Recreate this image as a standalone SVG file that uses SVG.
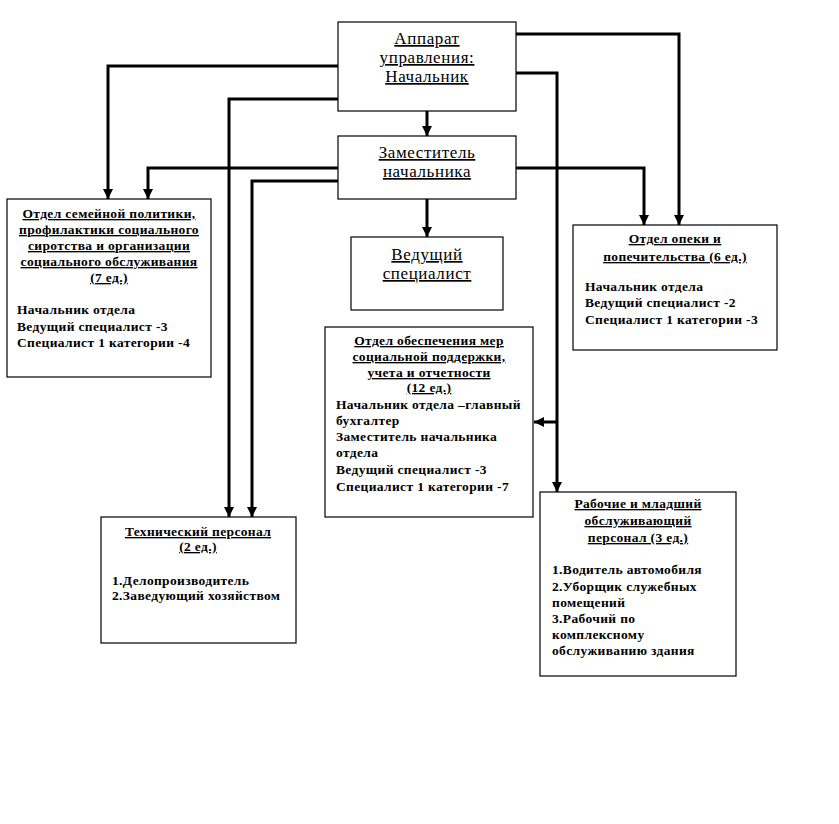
<svg xmlns="http://www.w3.org/2000/svg" width="839" height="824" viewBox="0 0 839 824">
<defs>
<marker id="arr" markerUnits="userSpaceOnUse" markerWidth="10" markerHeight="10" viewBox="0 0 10 10" refX="10" refY="5" orient="auto">
<path d="M0,0 L10,5 L0,10 Z" fill="#000"/>
</marker>
</defs>
<style>
.box{fill:#fff;stroke:#000;stroke-width:1.2}
.big{font-family:"Liberation Serif","Times New Roman",serif;font-size:17px;letter-spacing:0.6px;text-anchor:middle;text-decoration:underline;fill:#000}
.ttl{font-family:"Liberation Serif","Times New Roman",serif;font-size:13.5px;letter-spacing:0.35px;font-weight:bold;text-anchor:middle;text-decoration:underline;fill:#000}
.txt{font-family:"Liberation Serif","Times New Roman",serif;font-size:13.5px;letter-spacing:0.35px;font-weight:bold;fill:#000}
.c{fill:none;stroke:#000;stroke-width:3;marker-end:url(#arr)}
</style>
<rect width="839" height="824" fill="#fff"/>
<g id="connectors">
<path class="c" d="M427,111 V136"/>
<path class="c" d="M427,199 V237"/>
<path class="c" d="M338,66 H108 V199"/>
<path class="c" d="M338,168 H148 V199"/>
<path class="c" d="M338,99 H229 V517"/>
<path class="c" d="M338,181 H252 V517"/>
<path class="c" d="M516,34 H679 V225"/>
<path class="c" d="M516,168 H644 V225"/>
<path class="c" d="M516,73 H557 V492"/>
<path class="c" d="M557,422 H534"/>
</g>
<g id="n1">
<rect class="box" x="338" y="22" width="178" height="89"/>
<text class="big" x="427" y="44">Аппарат</text>
<text class="big" x="427" y="63">управления:</text>
<text class="big" x="427" y="82">Начальник</text>
</g>
<g id="n2">
<rect class="box" x="338" y="136" width="178" height="63"/>
<text class="big" x="427" y="158">Заместитель</text>
<text class="big" x="427" y="177">начальника</text>
</g>
<g id="n3">
<rect class="box" x="351" y="237" width="152" height="73"/>
<text class="big" x="427" y="260">Ведущий</text>
<text class="big" x="427" y="279">специалист</text>
</g>
<g id="n4">
<rect class="box" x="7" y="199" width="204" height="178"/>
<text class="ttl" x="109" y="218">Отдел семейной политики,</text>
<text class="ttl" x="109" y="234">профилактики социального</text>
<text class="ttl" x="109" y="250">сиротства и организации</text>
<text class="ttl" x="109" y="266">социального обслуживания</text>
<text class="ttl" x="109" y="282">(7 ед.)</text>
<text class="txt" x="17" y="314">Начальник отдела</text>
<text class="txt" x="17" y="331">Ведущий специалист -3</text>
<text class="txt" x="17" y="347">Специалист 1 категории -4</text>
</g>
<g id="n5">
<rect class="box" x="573" y="225" width="204" height="125"/>
<text class="ttl" x="675" y="243">Отдел опеки и</text>
<text class="ttl" x="675" y="261">попечительства (6 ед.)</text>
<text class="txt" x="585" y="291">Начальник отдела</text>
<text class="txt" x="585" y="307">Ведущий специалист -2</text>
<text class="txt" x="585" y="324">Специалист 1 категории -3</text>
</g>
<g id="n6">
<rect class="box" x="325" y="327" width="208" height="190"/>
<text class="ttl" x="429" y="345">Отдел обеспечения мер</text>
<text class="ttl" x="429" y="361">социальной поддержки,</text>
<text class="ttl" x="429" y="377">учета и отчетности</text>
<text class="ttl" x="429" y="392">(12 ед.)</text>
<text class="txt" x="336" y="409">Начальник отдела –главный</text>
<text class="txt" x="336" y="425">бухгалтер</text>
<text class="txt" x="336" y="441">Заместитель начальника</text>
<text class="txt" x="336" y="457">отдела</text>
<text class="txt" x="336" y="474">Ведущий специалист -3</text>
<text class="txt" x="336" y="491">Специалист 1 категории -7</text>
</g>
<g id="n7">
<rect class="box" x="101" y="517" width="195" height="126"/>
<text class="ttl" x="198" y="536">Технический персонал</text>
<text class="ttl" x="198" y="551">(2 ед.)</text>
<text class="txt" x="112" y="585">1.Делопроизводитель</text>
<text class="txt" x="112" y="600">2.Заведующий хозяйством</text>
</g>
<g id="n8">
<rect class="box" x="540" y="492" width="196" height="184"/>
<text class="ttl" x="638" y="508">Рабочие и младший</text>
<text class="ttl" x="638" y="525">обслуживающий</text>
<text class="ttl" x="638" y="542">персонал (3 ед.)</text>
<text class="txt" x="552" y="574">1.Водитель автомобиля</text>
<text class="txt" x="552" y="591">2.Уборщик служебных</text>
<text class="txt" x="552" y="607">помещений</text>
<text class="txt" x="552" y="623">3.Рабочий по</text>
<text class="txt" x="552" y="639">комплексному</text>
<text class="txt" x="552" y="655">обслуживанию здания</text>
</g>
</svg>
